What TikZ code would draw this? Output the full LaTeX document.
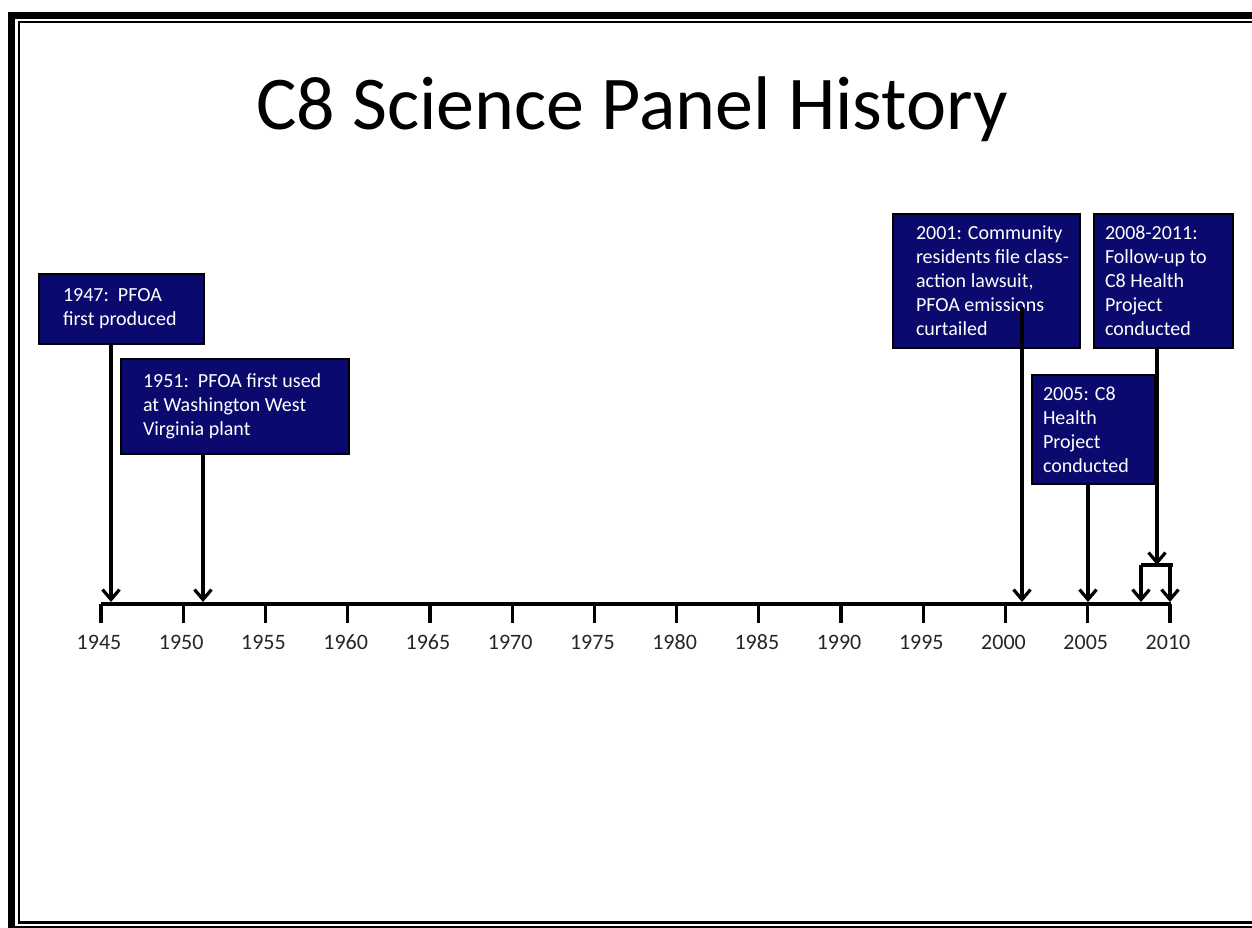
\documentclass[tikz,border=0pt]{standalone}
\usepackage{fontspec}
\setmainfont{Carlito}
\usetikzlibrary{arrows.meta}
\definecolor{navy}{RGB}{10,10,110}
\newcommand\evtext[3]{\hspace*{#2pt}\parbox[c]{\dimexpr#1pt-#2pt\relax}{\raggedright #3}}
\tikzset{
  evbox/.style={draw=black, line width=2pt, fill=navy, text=white, inner sep=0pt, anchor=north west,
    font=\fontsize{20}{24}\selectfont},
  arr/.style={line width=3.2pt, -{Straight Barb[length=10pt,width=17pt,line width=3.2pt]}},
  axisline/.style={line width=3.2pt},
  yearlbl/.style={font=\fontsize{22}{24}\selectfont, text=black!85, inner sep=0pt, anchor=base},
}
\begin{document}
\begin{tikzpicture}[x=1pt,y=-1pt]
\useasboundingbox (0,0) rectangle (1252,927);
\fill[white] (0,0) rectangle (1252,927);
% slide frame
\begin{scope}
\clip (0,0) rectangle (1252,927);
\draw[line width=7pt] (11.5,15.5) rectangle (1300,929.5);
\draw[line width=2.5pt] (19.2,22.2) rectangle (1290,922.5);
\end{scope}
% title
\node[anchor=base, font=\fontsize{76}{80}\selectfont, inner sep=0pt] (title) at (632,129) {C8 Science Panel History};
% axis
\coordinate (a0) at (101,604);
\coordinate (a1) at (1171,604);
\draw[axisline] (a0) -- (a1);
\foreach \i/\yr in {0/1945,1/1950,2/1955,3/1960,4/1965,5/1970,6/1975,7/1980,8/1985,9/1990,10/1995,11/2000,12/2005,13/2010}{
  \coordinate (tk\i) at ({101+\i*82.23},604);
  \draw[axisline] (tk\i) -- ++(0,19);
  \node[yearlbl] (yl\i) at ({99+\i*82.23},649) {\yr};
}
% event boxes
\node[evbox, minimum width=165pt, minimum height=70pt] (b1947) at (38,273) {\evtext{165}{24}{1947:\ \ PFOA\\first produced}};
\node[evbox, minimum width=228pt, minimum height=95pt] (b1951) at (120,358) {\evtext{228}{22}{1951:\ \ PFOA first used\\at Washington West\\Virginia plant}};
\node[evbox, minimum width=187pt, minimum height=134pt] (b2001) at (892,213) {\evtext{187}{23}{2001: Community\\residents file class-\\action lawsuit,\\PFOA emissions\\curtailed}};
\node[evbox, minimum width=139pt, minimum height=134pt] (b2008) at (1093,213) {\evtext{139}{11}{2008-2011:\\Follow-up to\\C8 Health\\Project\\conducted}};
\node[evbox, minimum width=123pt, minimum height=109pt] (b2005) at (1031,374) {\evtext{123}{11}{2005: C8\\Health\\Project\\conducted}};
% arrow targets
\coordinate (t1947) at (111,602);
\coordinate (t1951) at (203,602);
\coordinate (t2001) at (1022,602);
\coordinate (t2005) at (1088,602);
\coordinate (t2008) at (1141,602);
\coordinate (t2010) at (1170,602);
\coordinate (brL) at (1141,565);
\coordinate (brR) at (1173,565);
\coordinate (brT) at (1157,565);
\coordinate (s2001) at (1022,307);
% arrows
\draw[arr] (b1947.south -| t1947) -- (t1947);
\draw[arr] (b1951.south -| t1951) -- (t1951);
\draw[arr] (s2001) -- (t2001);
\draw[arr] (b2005.south -| t2005) -- (t2005);
\draw[arr] (b2008.south -| brT) -- (brT);
\draw[line width=3.2pt] (brL) -- (brR);
\draw[arr] (brL) -- (t2008);
\draw[arr] (brR -| t2010) -- (t2010);
\end{tikzpicture}
\end{document}
